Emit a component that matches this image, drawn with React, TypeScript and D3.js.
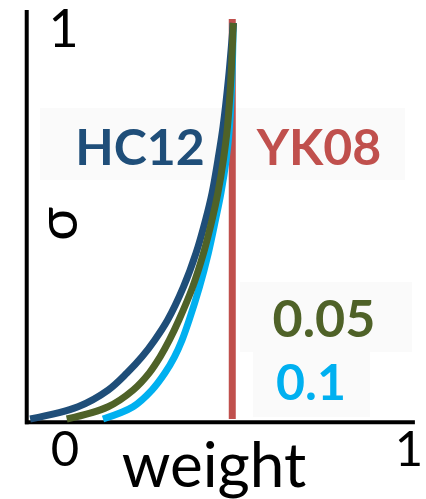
import React from "react";
import * as d3 from "d3";

// ---- data ----
const SIGMA_LEVELS = [0, 0.031, 0.073, 0.116, 0.157, 0.199, 0.25, 0.333, 0.419, 0.503, 0.571, 0.654, 0.738, 0.86, 1];
const HC12_WEIGHT = [-0.099, 0.041, 0.129, 0.184, 0.228, 0.265, 0.303, 0.349, 0.386, 0.414, 0.433, 0.45, 0.465, 0.481, 0.495];
const P005_WEIGHT = [0.008, 0.129, 0.202, 0.249, 0.281, 0.308, 0.336, 0.376, 0.408, 0.433, 0.45, 0.466, 0.478, 0.488, 0.495];
const P010_WEIGHT = [0.114, 0.202, 0.257, 0.295, 0.323, 0.345, 0.366, 0.396, 0.422, 0.443, 0.459, 0.474, 0.484, 0.491, 0.495];
const YK08_WEIGHT = 0.492;
const YK08_SIGMA = [0, 1.01];
const X_TICKS = [0, 1];
const X_TICK_LABELS = ["0", "1"];

const W = 426;
const H = 499;

const COLORS = {
  hc12: "#1f4e79",
  yk08: "#c0504d",
  p005: "#4f6228",
  p010: "#00b0f0",
};

export default function App() {
  const x = d3.scaleLinear().domain([0, 1]).range([64, 406]);
  const y = d3.scaleLinear().domain([0, 1]).range([419, 23]);

  const line = d3
    .line<[number, number]>()
    .x((d) => x(d[0]))
    .y((d) => y(d[1]))
    .curve(d3.curveCatmullRom.alpha(0.5));

  const series = [
    { w: P010_WEIGHT, color: COLORS.p010 },
    { w: HC12_WEIGHT, color: COLORS.hc12 },
    { w: P005_WEIGHT, color: COLORS.p005 },
  ];

  const font = "Lato, 'Open Sans', sans-serif";

  return (
    <svg
      width={W}
      height={H}
      style={{ position: "absolute", left: 0, top: 0, background: "#fff" }}
      fontFamily={font}
    >
      {/* faint label boxes */}
      <rect x={40} y={108} width={365} height={72} fill="#fafafa" />
      <rect x={240} y={282} width={172} height={70} fill="#fafafa" />
      <rect x={253} y={352} width={117} height={65} fill="#fafafa" />

      {/* axes */}
      <line x1={x(-0.109)} x2={x(-0.109)} y1={y(1.033)} y2={y(-0.013)} stroke="#000" strokeWidth={4} />
      <line x1={x(-0.114)} x2={x(1.026)} y1={y(-0.008)} y2={y(-0.008)} stroke="#000" strokeWidth={4} />

      {/* YK08 vertical */}
      <line
        x1={x(YK08_WEIGHT)}
        x2={x(YK08_WEIGHT)}
        y1={y(YK08_SIGMA[0])}
        y2={y(YK08_SIGMA[1])}
        stroke={COLORS.yk08}
        strokeWidth={7}
      />

      {/* curves */}
      {series.map((s, i) => (
        <path
          key={i}
          d={line(s.w.map((w, j) => [w, SIGMA_LEVELS[j]] as [number, number])) || ""}
          fill="none"
          stroke={s.color}
          strokeWidth={7}
        />
      ))}

      {/* axis labels */}
      {X_TICKS.map((t, i) => (
        <text key={t} x={x(t) + (i === 0 ? 1 : 3)} y={466} fontSize={49} textAnchor="middle" fill="#000">
          {X_TICK_LABELS[i]}
        </text>
      ))}
      <text x={63.5} y={46.5} fontSize={52} textAnchor="middle" fill="#000">
        1
      </text>
      <text x={214} y={487} fontSize={62} textAnchor="middle" fill="#000">
        weight
      </text>
      <text transform="translate(77,224) rotate(-90)" fontSize={56} textAnchor="middle" fill="#000">
        σ
      </text>

      {/* series labels */}
      <text x={140} y={165} fontSize={50} fontWeight="bold" textAnchor="middle" fill={COLORS.hc12}>
        HC12
      </text>
      <text x={319} y={165} fontSize={50} fontWeight="bold" textAnchor="middle" fill={COLORS.yk08}>
        YK08
      </text>
      <text x={324} y={337} fontSize={52} fontWeight="bold" textAnchor="middle" fill={COLORS.p005}>
        0.05
      </text>
      <text x={311} y={400} fontSize={50} fontWeight="bold" textAnchor="middle" fill={COLORS.p010}>
        0.1
      </text>
    </svg>
  );
}
